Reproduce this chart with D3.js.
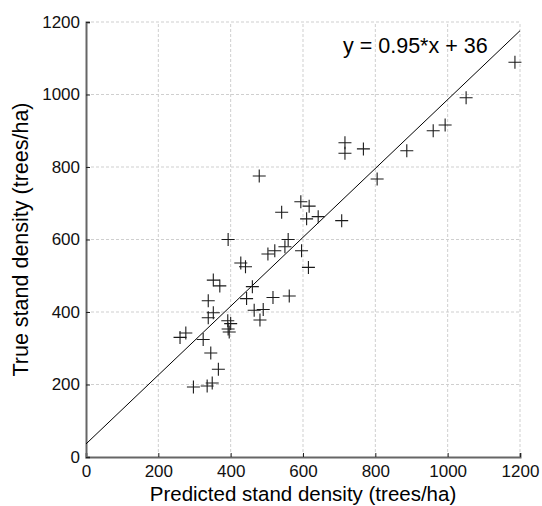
<!DOCTYPE html>
<html>
<head>
<meta charset="utf-8">
<script src="https://cdn.jsdelivr.net/npm/d3@7"></script>
<style>
  body { margin: 0; background: #fff; }
  svg { display: block; font-family: 'Liberation Sans', Arial, sans-serif; }
</style>
</head>
<body>
<div id="chart"></div>
<script>
// predicted vs true stand density
const predicted = [1186, 1051, 993, 960, 887, 805, 767, 716, 716, 707,
  479, 594, 617, 541, 610, 642, 559, 550, 522, 503,
  596, 615, 428, 441, 460, 444, 517, 562, 465, 490,
  481, 352, 370, 338, 352, 338, 392, 400, 393, 396,
  260, 276, 324, 345, 366, 297, 335, 349, 393]
const observed = [1089, 991, 916, 900, 845, 767, 850, 867, 838, 652,
  775, 704, 692, 675, 657, 663, 600, 580, 569, 560,
  569, 523, 535, 525, 470, 437, 440, 444, 405, 407,
  378, 488, 472, 431, 398, 384, 376, 368, 353, 345,
  330, 342, 324, 287, 242, 193, 196, 204, 600]
const ticks = [0, 200, 400, 600, 800, 1000, 1200]
const fit = { slope: 0.95, intercept: 36 }
const fitLabel = 'y = 0.95*x + 36'

const width = 542, height = 506
const margin = { left: 86, right: 22, top: 22, bottom: 49 }

const svg = d3.select('#chart').append('svg').attr('width', width).attr('height', height)

const x = d3.scaleLinear().domain([0, 1200]).range([margin.left, width - margin.right])
const y = d3.scaleLinear().domain([0, 1200]).range([height - margin.bottom, margin.top])

// grid
const grid = svg.append('g').attr('stroke', '#cfcfcf').attr('stroke-dasharray', '3,2').attr('stroke-width', 1)
grid.selectAll('line.v').data(ticks.slice(1)).join('line')
  .attr('x1', (d) => x(d)).attr('x2', (d) => x(d))
  .attr('y1', y(0)).attr('y2', y(1200))
grid.selectAll('line.h').data(ticks.slice(1)).join('line')
  .attr('y1', (d) => y(d)).attr('y2', (d) => y(d))
  .attr('x1', x(0)).attr('x2', x(1200))

// axes
const fmt = d3.format('d')
const xAxis = svg.append('g')
  .attr('transform', `translate(0,${y(0)})`)
  .call(d3.axisBottom(x).tickValues(ticks).tickFormat(fmt).tickSize(-4).tickPadding(8))
const yAxis = svg.append('g')
  .attr('transform', `translate(${x(0)},0)`)
  .call(d3.axisLeft(y).tickValues(ticks).tickFormat(fmt).tickSize(-4).tickPadding(6))
for (const ax of [xAxis, yAxis]) {
  ax.select('.domain').attr('stroke', '#666').attr('stroke-width', 2)
  ax.selectAll('.tick line').attr('stroke', '#222')
  ax.selectAll('.tick text').attr('font-size', 17).attr('fill', '#111')
    .attr('font-family', "'Liberation Sans', Arial, sans-serif")
}

// fit line
svg.append('line')
  .attr('x1', x(0)).attr('y1', y(fit.intercept))
  .attr('x2', x(1200)).attr('y2', y(fit.slope * 1200 + fit.intercept))
  .attr('stroke', '#000').attr('stroke-width', 1)

// markers
const pts = predicted.map((p, i) => [p, observed[i]])
const arm = 6.5
svg.append('g').attr('stroke', '#1a1a1a').attr('stroke-width', 1.1)
  .selectAll('path').data(pts).join('path')
  .attr('d', (d) => {
    const cx = x(d[0]), cy = y(d[1])
    return `M${cx - arm},${cy}H${cx + arm}M${cx},${cy - arm}V${cy + arm}`
  })

// equation
svg.append('text')
  .attr('x', 343).attr('y', 53)
  .attr('font-size', 21.5).attr('fill', '#000')
  .text(fitLabel)

// axis titles
svg.append('text')
  .attr('x', x(600)).attr('y', 501)
  .attr('text-anchor', 'middle').attr('font-size', 20.5).attr('fill', '#000')
  .text('Predicted stand density (trees/ha)')
svg.append('text')
  .attr('transform', `translate(28,${y(600)}) rotate(-90)`)
  .attr('text-anchor', 'middle').attr('font-size', 21.5).attr('fill', '#000')
  .text('True stand density (trees/ha)')
</script>
</body>
</html>
